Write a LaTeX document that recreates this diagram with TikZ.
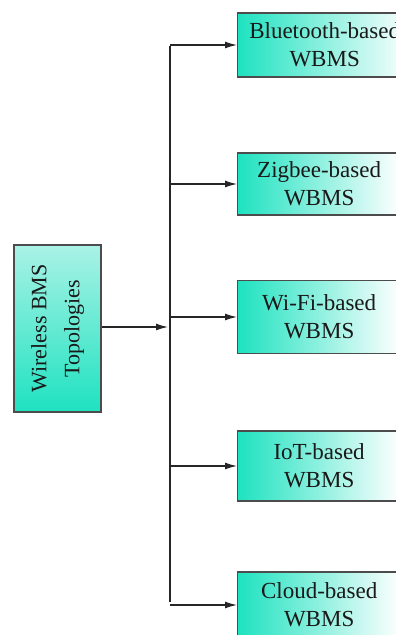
\documentclass[tikz,border=0pt]{standalone}
\usepackage{fontspec}
\setmainfont{Liberation Serif}
\usetikzlibrary{arrows.meta}

\definecolor{wbmsteal}{RGB}{30,226,192}
\definecolor{wbmslight}{RGB}{170,242,230}

\tikzset{
	rootbox/.style={draw=black!70, line width=1.3pt, top color=wbmslight, bottom color=wbmsteal, minimum width=87pt, minimum height=167pt},
	typebox/.style={draw=black!70, line width=1.3pt, left color=wbmsteal, right color=white, anchor=west, align=center, text=black!90, font=\fontsize{23}{28}\selectfont},
	conn/.style={draw=black!85, line width=1.2pt, -{Latex[length=12pt,width=7pt]}},
	trunk/.style={draw=black!85, line width=1.2pt}
}

\begin{document}
\begin{tikzpicture}[x=1pt,y=1pt]
	\useasboundingbox (0,0) rectangle (396,635);
	\clip (0,0) rectangle (396,635);

	\node[rootbox] (root) at (57.5,306.5) {};
	\node[rotate=90, align=center, text=black!90, font=\fontsize{22}{33}\selectfont] (rootlbl) at (root) {Wireless BMS\\Topologies};

	% vertical bus
	\coordinate (ttop) at (170,589);
	\coordinate (tbot) at (170,33);
	\coordinate (tin) at (168,308);
	\draw[trunk] (ttop) -- (tbot);
	\draw[conn] (root.east |- tin) -- (tin);

	\foreach \nm/\y/\w/\h/\txt in {bt/590/174/64/{Bluetooth-based\\WBMS}, zb/451/163/62/{Zigbee-based\\WBMS}, wf/318/163/73/{Wi-Fi-based\\WBMS}, iot/169/163/70/{IoT-based\\WBMS}, cl/30/163/66/{Cloud-based\\WBMS}}{
		\node[typebox, minimum width=\w pt, minimum height=\h pt] (\nm) at (237,\y) {\txt};
		\draw[conn] (\nm.west -| ttop) -- (\nm.west);
	}
\end{tikzpicture}
\end{document}
